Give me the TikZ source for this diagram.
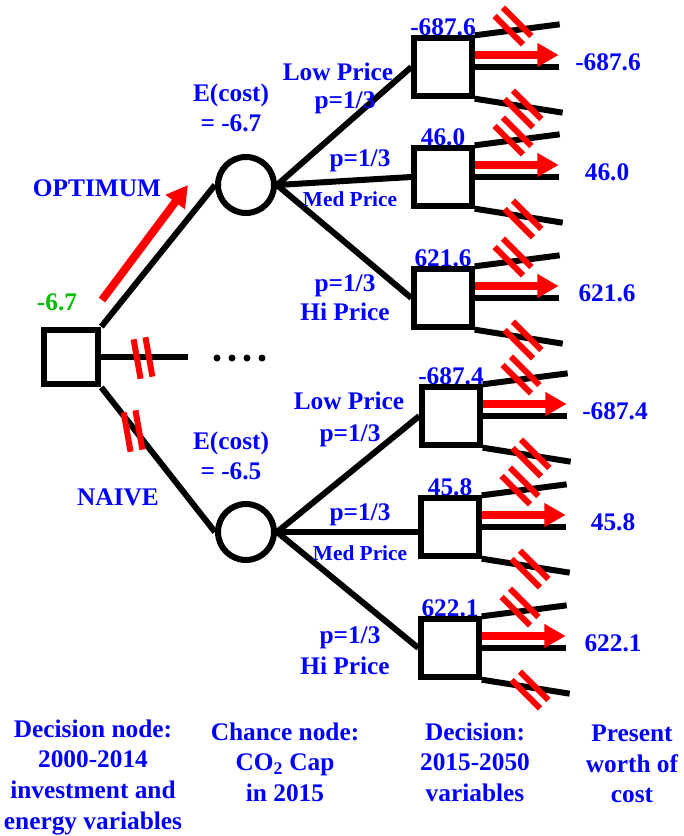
\documentclass[tikz,border=0pt]{standalone}
\usepackage{fontspec}
\setmainfont{Liberation Serif}
\usetikzlibrary{arrows.meta}

\begin{document}
\begin{tikzpicture}[
        x=0.75pt, y=-0.75pt,
        branch/.style={line width=4.5pt},
        choice/.style={draw, line width=4.5pt, minimum size=43pt, inner sep=0pt},
        chance/.style={draw, circle, line width=4.5pt, minimum size=42pt, inner sep=0pt},
        lbl/.style={text=blue, font=\fontsize{19}{23}\selectfont\bfseries, inner sep=0pt, align=center},
        smalllbl/.style={text=blue, font=\fontsize{16}{19}\selectfont\bfseries, inner sep=0pt},
        pick/.style={red, line width=6pt, -{Triangle[length=16pt, width=17pt]}},
        cutbar/.style={red, line width=4.5pt},
        cutpair/.pic={
            \draw[cutbar] (-6,-20) -- (-6,20);
            \draw[cutbar] (6,-20) -- (6,20);
        },
    ]

    \useasboundingbox (0,0) rectangle (684,836);

    % first stage
    \node[choice, minimum size=41pt] (root) at (71,357) {};
    \node[lbl, text=green!75!black] (rootval) at (57,302) {-6.7};
    \node[chance] (capopt) at (246,185) {};
    \node[chance] (capnaive) at (246,532) {};
    \coordinate (stub) at (188,357);

    \draw[branch] (root.north east) -- (capopt.west);
    \draw[branch] (root.east) -- (stub);
    \draw[branch] (root.south east) -- (capnaive.west);

    \draw[pick] (102,300) -- (188,185);
    \pic[rotate=10] at (143,358) {cutpair};
    \pic[rotate=10] at (133,431) {cutpair};
    \foreach \x in {217,232,247,262}
        \fill (\x,358) circle (3.5);

    \node[lbl] (optlbl) at (97,188) {OPTIMUM};
    \node[lbl] (naivelbl) at (118,497) {NAIVE};
    \node[lbl] (optcost) at (231,108) {E(cost)\\= -6.7};
    \node[lbl] (naivecost) at (231,456) {E(cost)\\= -6.5};

    % second stage
    \foreach \name/\cx/\cy/\val/\vx in {A/443/67/-687.6/608, B/443/177/46.0/607,
        C/443/298/621.6/607, D/451/416/-687.4/615, E/450/527/45.8/613, F/450/648/622.1/613}
    {
        \node[lbl] (\name top) at (\cx,\cy-40) {\val};
        \node[choice] (\name) at (\cx,\cy) {};
        \node[lbl] (\name val) at (\vx,\cy-5) {\val};
        \draw[branch] (\name.north east) -- ++(85,-11);
        \draw[branch] (\name.east) -- ++(84,0);
        \draw[branch] (\name.south east) -- ++(88,14);
        \draw[pick] ([yshift=9pt]\name.east) -- ++(84,0);
        \pic[rotate=45] at (\cx+70,\cy-41) {cutpair};
        \pic[rotate=45] at (\cx+80,\cy+42) {cutpair};
    }

    \draw[branch] (capopt.east) -- (A.west);
    \draw[branch] (capopt.east) -- (B.west);
    \draw[branch] (capopt.east) -- (C.west);
    \draw[branch] (capnaive.east) -- (D.west);
    \draw[branch] (capnaive.east) -- (capnaive.east -| E.west);
    \draw[branch] (capnaive.east) -- (F.west);

    \node[lbl] (lowa) at (338,72) {Low Price};
    \node[lbl] (pa) at (345,103) {p=1/3};
    \node[lbl] (pb) at (360,161) {p=1/3};
    \node[smalllbl] (medb) at (350,199) {Med Price};
    \node[lbl] (pc) at (345,286) {p=1/3};
    \node[lbl] (hic) at (345,312) {Hi Price};
    \node[lbl] (lowd) at (349,401) {Low Price};
    \node[lbl] (pd) at (350,436) {p=1/3};
    \node[lbl] (pe) at (360,515) {p=1/3};
    \node[smalllbl] (mede) at (360,553) {Med Price};
    \node[lbl] (pf) at (350,638) {p=1/3};
    \node[lbl] (hif) at (345,666) {Hi Price};

    % captions
    \node[lbl] (capone) at (93,777) {Decision node:\\2000-2014\\investment and\\energy variables};
    \node[lbl] (captwo) at (285,762) {Chance node:\\CO\textsubscript{2} Cap\\in 2015};
    \node[lbl] (capthree) at (475,762) {Decision:\\2015-2050\\variables};
    \node[lbl] (capfour) at (632,764) {Present\\worth of\\cost};
\end{tikzpicture}
\end{document}
